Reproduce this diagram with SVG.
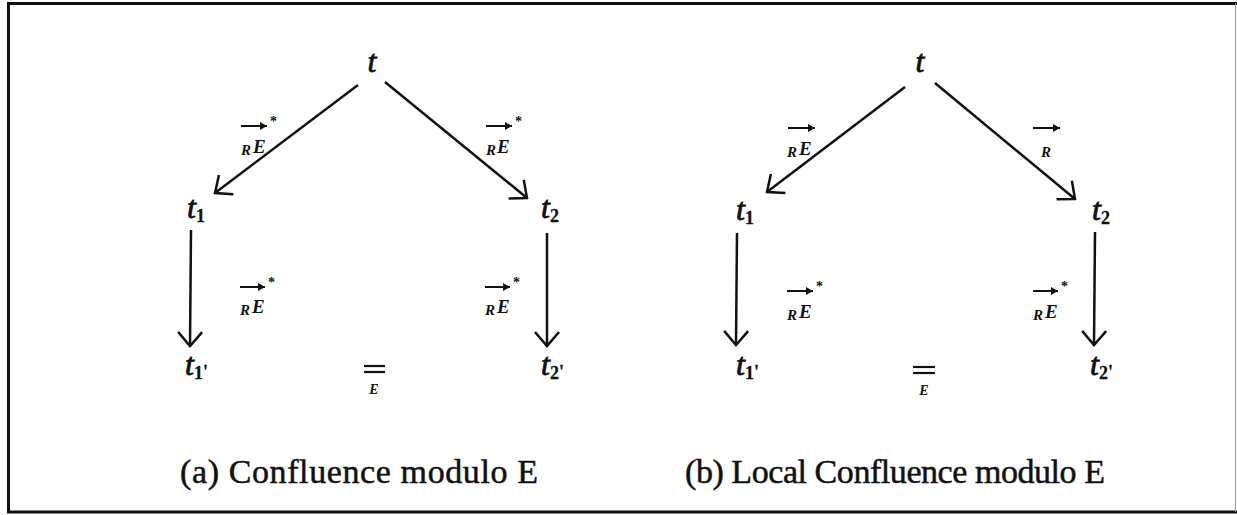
<svg xmlns="http://www.w3.org/2000/svg" width="1237" height="515" viewBox="0 0 1237 515">
<style>
.m{font-family:"Liberation Serif",serif;font-style:italic;font-weight:bold;fill:#111}
.n{font-size:32px;font-weight:normal;stroke:#111;stroke-width:0.8}
.sub{font-size:18px;font-style:normal;font-weight:bold;stroke-width:0.3}
.r{font-size:15px}
.e{font-size:19px}
.qe{font-size:14px}
.st{font-size:14px;font-style:normal}
.cap{font-family:"Liberation Serif",serif;font-size:34px;fill:#111;stroke:#111;stroke-width:0.5}
.c{fill:none;stroke:#111;stroke-width:2.5;marker-end:url(#v)}
.la{fill:none;stroke:#111;stroke-width:2;marker-end:url(#h)}
.eq{stroke:#111;stroke-width:2.2}
</style>
<defs>
<marker id="v" markerUnits="userSpaceOnUse" viewBox="-16 -14 18 28" refX="0" refY="0" markerWidth="18" markerHeight="28" orient="auto">
<path d="M-14,-12 L0,0 L-14,12" fill="none" stroke="#111" stroke-width="2.5"/>
</marker>
<marker id="h" markerUnits="userSpaceOnUse" viewBox="-8 -5 9 10" refX="0" refY="0" markerWidth="9" markerHeight="10" orient="auto">
<path d="M-7,-4 L0,0 L-7,4 Z" fill="#111"/>
</marker>
</defs>
<rect width="1237" height="515" fill="#fff"/>
<g id="frame">
<path d="M1237,3.5 L8.5,3.5 L8.5,512 L1237,512" fill="none" stroke="#111" stroke-width="3"/>
<line x1="1235.5" y1="3" x2="1235.5" y2="512" stroke="#999" stroke-width="1"/>
</g>
<g id="connectors">
<line class="c" x1="358" y1="85" x2="215" y2="193"/>
<line class="c" x1="385" y1="82" x2="527" y2="198"/>
<line class="c" x1="191" y1="230" x2="190" y2="346"/>
<line class="c" x1="547" y1="233" x2="547" y2="346"/>
<line class="c" x1="905" y1="87" x2="767" y2="192"/>
<line class="c" x1="935" y1="83" x2="1075" y2="199"/>
<line class="c" x1="737" y1="233" x2="736" y2="345"/>
<line class="c" x1="1095" y1="232" x2="1094" y2="345"/>
</g>
<g id="a-t"><text class="m n" x="372" y="72" text-anchor="middle">t</text></g>
<g id="a-t1"><text class="m n" x="187" y="218">t<tspan class="sub" dy="4">1</tspan></text></g>
<g id="a-t2"><text class="m n" x="541" y="218">t<tspan class="sub" dy="4">2</tspan></text></g>
<g id="a-t1p"><text class="m n" x="185" y="375">t<tspan class="sub" dy="4">1</tspan><tspan class="sub" dy="-1">'</tspan></text></g>
<g id="a-t2p"><text class="m n" x="541" y="375">t<tspan class="sub" dy="4">2</tspan><tspan class="sub" dy="-1">'</tspan></text></g>
<g id="a-eq"><line class="eq" x1="364" y1="366" x2="385" y2="366"/><line class="eq" x1="364" y1="372" x2="385" y2="372"/><text class="m qe" x="374" y="394" text-anchor="middle">E</text></g>
<g id="a-lab1"><line class="la" x1="241" y1="126" x2="267" y2="126"/><text class="m st" x="270" y="126">*</text><text class="m r" x="241" y="155">R</text><text class="m e" x="253" y="153">E</text></g>
<g id="a-lab2"><line class="la" x1="486" y1="126" x2="512" y2="126"/><text class="m st" x="515" y="126">*</text><text class="m r" x="486" y="155">R</text><text class="m e" x="497" y="153">E</text></g>
<g id="a-lab3"><line class="la" x1="240" y1="287" x2="265" y2="287"/><text class="m st" x="268" y="287">*</text><text class="m r" x="240" y="315">R</text><text class="m e" x="252" y="313">E</text></g>
<g id="a-lab4"><line class="la" x1="485" y1="287" x2="510" y2="287"/><text class="m st" x="513" y="287">*</text><text class="m r" x="485" y="315">R</text><text class="m e" x="497" y="313">E</text></g>
<g id="b-t"><text class="m n" x="920" y="72" text-anchor="middle">t</text></g>
<g id="b-t1"><text class="m n" x="736" y="220">t<tspan class="sub" dy="4">1</tspan></text></g>
<g id="b-t2"><text class="m n" x="1092" y="220">t<tspan class="sub" dy="4">2</tspan></text></g>
<g id="b-t1p"><text class="m n" x="736" y="375">t<tspan class="sub" dy="4">1</tspan><tspan class="sub" dy="-1">'</tspan></text></g>
<g id="b-t2p"><text class="m n" x="1090" y="375">t<tspan class="sub" dy="4">2</tspan><tspan class="sub" dy="-1">'</tspan></text></g>
<g id="b-eq"><line class="eq" x1="913" y1="367" x2="935" y2="367"/><line class="eq" x1="913" y1="373" x2="935" y2="373"/><text class="m qe" x="924" y="395" text-anchor="middle">E</text></g>
<g id="b-lab1"><line class="la" x1="788" y1="128" x2="815" y2="128"/><text class="m r" x="787" y="157">R</text><text class="m e" x="799" y="155">E</text></g>
<g id="b-lab2"><line class="la" x1="1033" y1="128" x2="1060" y2="128"/><text class="m r" x="1041" y="157">R</text></g>
<g id="b-lab3"><line class="la" x1="787" y1="291" x2="813" y2="291"/><text class="m st" x="816" y="291">*</text><text class="m r" x="787" y="320">R</text><text class="m e" x="799" y="318">E</text></g>
<g id="b-lab4"><line class="la" x1="1033" y1="291" x2="1058" y2="291"/><text class="m st" x="1061" y="291">*</text><text class="m r" x="1033" y="320">R</text><text class="m e" x="1045" y="318">E</text></g>
<g id="captions">
<text class="cap" x="180" y="483" textLength="358">(a) Confluence modulo E</text>
<text class="cap" x="685" y="483" textLength="420">(b) Local Confluence modulo E</text>
</g>
</svg>
